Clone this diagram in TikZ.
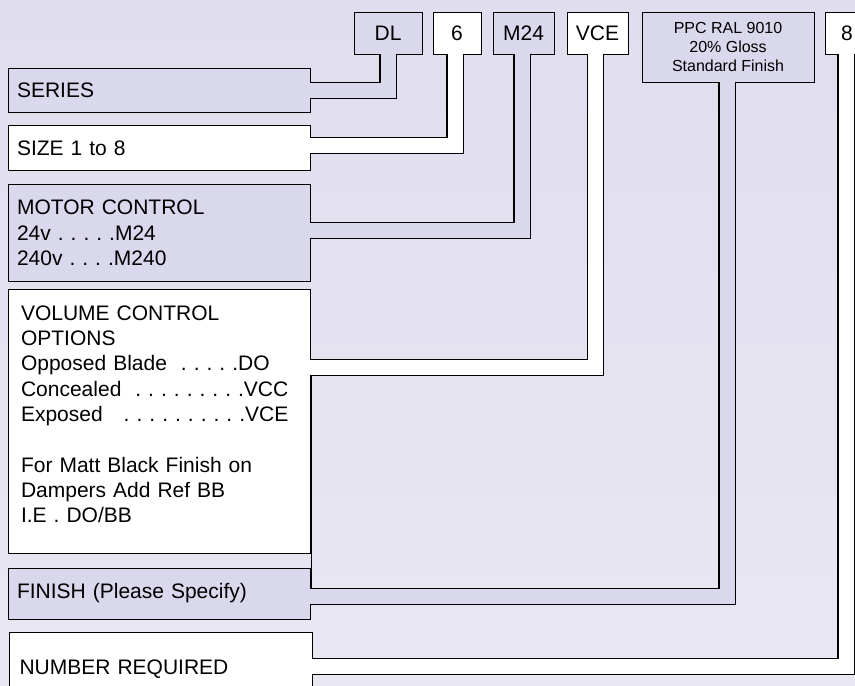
\documentclass[tikz,border=0pt]{standalone}
\usepackage{fontspec}
\setmainfont{Liberation Sans}
\frenchspacing

\definecolor{lilac}{RGB}{217,216,236}
\definecolor{haze}{RGB}{224,222,238}
\definecolor{hazelow}{RGB}{233,231,242}

\begin{document}
\begin{tikzpicture}[x=1pt,y=-1pt,
		key/.style={draw, line width=1.1pt, anchor=north west, minimum height=42pt, inner sep=0pt, font=\fontsize{21}{25}\selectfont},
		tag/.style={draw, line width=1.1pt, anchor=north west, inner xsep=8.5pt, inner ysep=0pt, text width=285pt, align=left, font=\fontsize{21}{25.3}\selectfont},
		link/.style={draw=black, line width=1.1pt, double=#1, double distance=15pt, shorten <=-1.1pt, shorten >=-1.1pt, to path={|- (\tikztotarget)}}]
		\useasboundingbox (0,0) rectangle (855,686);
		\clip (0,0) rectangle (855,686);
		\shade[top color=haze, bottom color=hazelow] (0,0) rectangle (855,686);
		% code boxes along the top
		\draw
			(353.5,11.5) node [key, minimum width=68pt, fill=lilac] (dl) {DL}
			(432.5,11.5) node [key, minimum width=48pt, fill=white] (six) {6}
			(492.5,11.5) node [key, minimum width=61pt, fill=lilac] (m24) {M24}
			(566.5,11.5) node [key, minimum width=61pt, fill=white] (vce) {VCE}
			(641.5,11.5) node [key, minimum width=172pt, minimum height=70pt, fill=lilac, align=center, font=\fontsize{16}{19.3}\selectfont] (ppc) {PPC RAL 9010\\20\% Gloss\\Standard Finish}
			(824.5,11.5) node [key, minimum width=44pt, fill=white] (eight) {8}
			;
		% descriptions down the left
		\draw
			(8,68) node [tag, minimum height=44pt, fill=lilac] (series) {SERIES}
			(8,125) node [tag, minimum height=45pt, fill=white] (size) {SIZE 1 to 8}
			(8,184) node [tag, minimum height=97pt, fill=lilac] (motor) {MOTOR CONTROL\\24v . . . . .M24\\240v . . . .M240}
			(8,289) node [tag, minimum height=264pt, fill=white, inner xsep=12.5pt, inner ysep=16pt, text width=277pt] (volume)
				{\parbox[t][232pt][t]{277pt}{VOLUME CONTROL\\OPTIONS\\Opposed Blade\ \ . . . . .DO\\Concealed\ \ . . . . . . . . .VCC\\Exposed\ \ \ . . . . . . . . . .VCE\\[25.3pt]For Matt Black Finish on\\Dampers Add Ref BB\\I.E . DO/BB}}
			(8,567.5) node [tag, minimum height=51pt, fill=lilac] (finish) {FINISH (Please Specify)}
			(9,631.5) node [tag, minimum height=74pt, fill=white, inner xsep=10pt, text width=283pt] (number) {NUMBER REQUIRED}
			;
		\path
			(dl.south) edge [link=lilac] (series.east)
			([xshift=-2pt]six.south) edge [link=white] ([yshift=2.5pt]size.east)
			([xshift=-1.5pt]m24.south) edge [link=lilac] ([yshift=2.5pt]motor.east)
			([xshift=-2pt]vce.south) edge [link=white] ([yshift=54pt]volume.east)
			([xshift=-1pt]ppc.south) edge [link=lilac] ([yshift=-3pt]finish.east)
			([xshift=-1pt]eight.south) edge [link=white] ([yshift=2.5pt]number.east)
			;
		% edge of the panel between the volume and finish links
		\draw[line width=1.1pt] (311.5,375) -- (311.5,588);
	\end{tikzpicture}
\end{document}
